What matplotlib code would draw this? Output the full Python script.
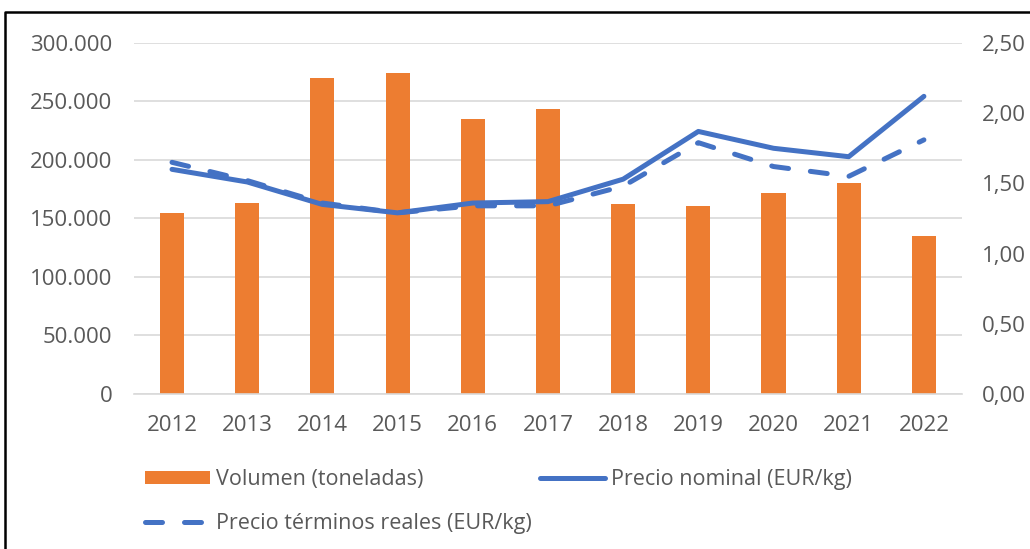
import matplotlib
matplotlib.use('Agg')
import matplotlib.pyplot as plt
from matplotlib.lines import Line2D
from matplotlib.ticker import FuncFormatter

# data
years = ['2012', '2013', '2014', '2015', '2016', '2017', '2018', '2019', '2020', '2021', '2022']
volumen = [155000, 163500, 270000, 274500, 235000, 244000, 162500, 160500, 171500, 180000, 135000]
precio_nominal = [1.60, 1.51, 1.35, 1.29, 1.36, 1.37, 1.53, 1.87, 1.75, 1.69, 2.12]
precio_real = [1.65, 1.52, 1.36, 1.29, 1.34, 1.34, 1.48, 1.79, 1.62, 1.55, 1.81]

orange = '#ED7D31'
blue = '#4472C4'
txt = '#595959'

plt.rcParams['font.family'] = ['Open Sans', 'DejaVu Sans']
plt.rcParams['font.size'] = 16

fig = plt.figure(figsize=(10.30, 5.49), dpi=100)
ax = fig.add_axes([0.1305, 0.2824, 0.803, 0.6393])
x = list(range(len(years)))

bars = ax.bar(x, volumen, width=0.32, color=orange, zorder=2)
ax.set_ylim(0, 300000)
ax.set_xlim(-0.5, len(years) - 0.5)
ax.set_yticks(range(0, 300001, 50000))
ax.yaxis.set_major_formatter(FuncFormatter(lambda v, p: '{:,.0f}'.format(v).replace(',', '.')))
ax.set_xticks(x)
ax.set_xticklabels(years)
ax.grid(axis='y', color='#D9D9D9', linewidth=1.2, zorder=0)
ax.set_axisbelow(True)
for s in ['top', 'right', 'left']:
    ax.spines[s].set_visible(False)
ax.spines['bottom'].set_color('#D9D9D9')
ax.spines['bottom'].set_linewidth(1.2)
ax.tick_params(axis='both', length=0, colors=txt, labelsize=16)
ax.tick_params(axis='y', pad=16)
ax.tick_params(axis='x', pad=15)

ax2 = ax.twinx()
ax2.set_ylim(0, 2.5)
ax2.set_yticks([0, 0.5, 1.0, 1.5, 2.0, 2.5])
ax2.yaxis.set_major_formatter(FuncFormatter(lambda v, p: '{:.2f}'.format(v).replace('.', ',')))
for s in ax2.spines.values():
    s.set_visible(False)
ax2.tick_params(axis='y', length=0, colors=txt, labelsize=16, pad=15)

l1, = ax2.plot(x, precio_nominal, color=blue, linewidth=3.6, solid_capstyle='round', solid_joinstyle='round')
l2, = ax2.plot(x, precio_real, color=blue, linewidth=3.6, dashes=(3.4, 4.4), dash_capstyle='round')

# legend fills column-wise: volumen + real in col 1, nominal in col 2
fig.legend([bars, l2, l1],
           ['Volumen (toneladas)', 'Precio términos reales (EUR/kg)', 'Precio nominal (EUR/kg)'],
           loc='upper left', bbox_to_anchor=(0.1408, 0.1456), ncol=2, frameon=False,
           labelcolor=txt, fontsize=15.5, handlelength=3.0, handleheight=0.55, handletextpad=0.3,
           columnspacing=0.4, labelspacing=1.05, borderpad=0, borderaxespad=0)

# outer border of the crop
bx = 5 / 1030
by = 1 - 12 / 549
fig.add_artist(Line2D([bx, bx, 1.0], [0.0, by, by], transform=fig.transFigure, color='black', linewidth=1.8))

fig.savefig('out.png', dpi=100)
